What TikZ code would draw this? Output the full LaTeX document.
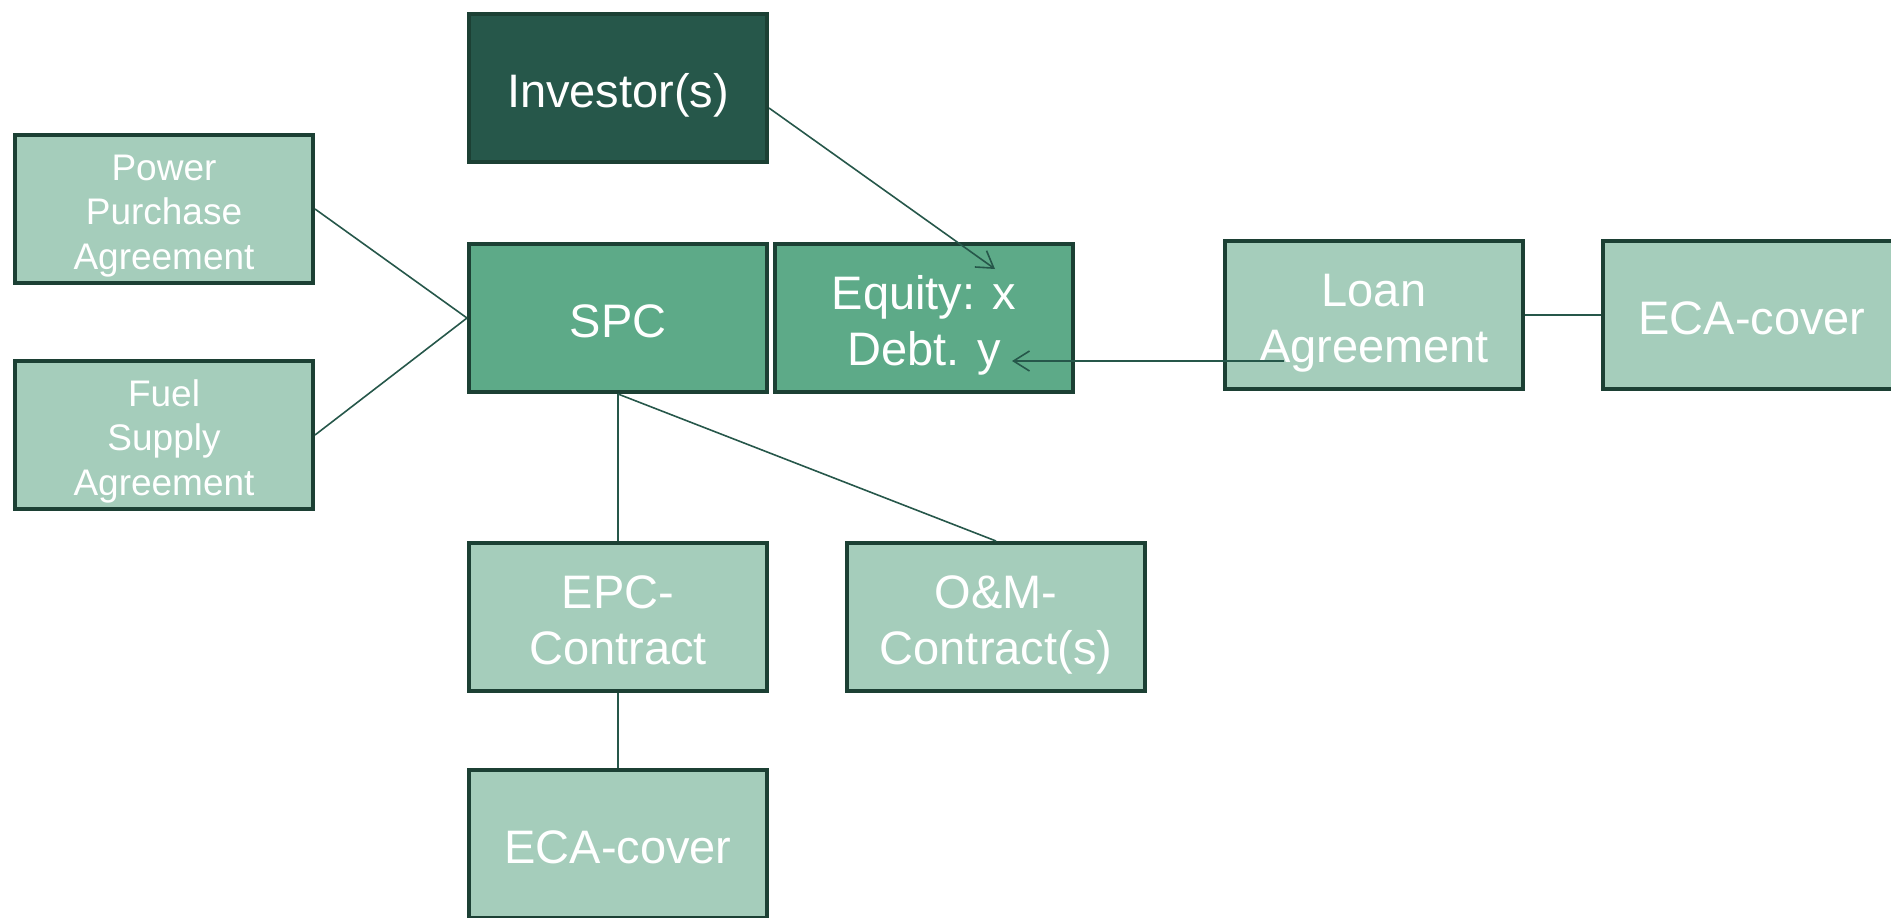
\documentclass[tikz,border=0pt]{standalone}
\usepackage{fontspec}
\setmainfont{Liberation Sans}
\usetikzlibrary{arrows.meta,calc}

\definecolor{edgegreen}{HTML}{1C4034}
\definecolor{darkfill}{HTML}{26574A}
\definecolor{midfill}{HTML}{5DAA88}
\definecolor{lightfill}{HTML}{A5CDBB}
\definecolor{linkgreen}{HTML}{26574A}

% struts: fixed ascent for the first line and fixed descent for the last line
\newcommand{\tops}{\rule{0pt}{1.07em}}
\newcommand{\bots}{\rule[-0.22em]{0pt}{0.22em}}

\begin{document}
\begin{tikzpicture}[x=1pt,y=-1pt,
  box/.style={draw=edgegreen, line width=4pt, minimum width=298pt,
    minimum height=148pt, inner sep=0pt, align=center, text=white,
    font=\fontsize{47}{56}\selectfont},
  smalltext/.style={font=\fontsize{37}{44.5}\selectfont},
  link/.style={draw=linkgreen, line width=1.6pt},
  arrowlink/.style={link, -{Straight Barb[length=16pt,width=20pt,line width=1.6pt]}}]

\clip (0,0) rectangle (1891,918);
\useasboundingbox (0,0) rectangle (1891,918);

% central company and its shareholders
\node[box, fill=darkfill]  (inv)  at (618,88)   {\tops Investor(s)\bots};
\node[box, fill=midfill]   (spc)  at (618,318)  {\tops SPC\bots};
\node[box, fill=midfill]   (eq)   at (924,318)  {\tops Equity: x\\Debt. y\bots};

% financing
\node[box, fill=lightfill] (loan) at (1374,315) {\tops Loan\\Agreement\bots};
\node[box, fill=lightfill] (ecar) at (1752,315) {\tops ECA-cover\bots};

% offtake and supply contracts
\node[box, fill=lightfill, smalltext] (ppa)  at (164,209) {\tops Power\\Purchase\\Agreement\bots};
\node[box, fill=lightfill, smalltext] (fuel) at (164,435) {\tops Fuel\\Supply\\Agreement\bots};

% construction and operation
\node[box, fill=lightfill] (epc)  at (618,617) {\tops EPC-\\Contract\bots};
\node[box, fill=lightfill] (om)   at (996,617) {\tops O\&M-\\Contract(s)\bots};
\node[box, fill=lightfill] (ecab) at (618,844) {\tops ECA-cover\bots};

% free ends of the flow arrows
\coordinate (invout)  at ($(inv.east)+(0,20)$);
\coordinate (eqtip)   at (995,269);
\coordinate (loanout) at (1284,361);
\coordinate (debttip) at (1012,361);

% connectors
\draw[link] (ppa.east)  -- (spc.west);
\draw[link] (fuel.east) -- (spc.west);
\draw[link] (spc.south) -- (epc.north);
\draw[link] (spc.south) -- (om.north);
\draw[link] (epc.south) -- (ecab.north);
\draw[link] (loan.east) -- (ecar.west);
\draw[arrowlink] (invout)  -- (eqtip);
\draw[arrowlink] (loanout) -- (debttip);
\end{tikzpicture}
\end{document}
